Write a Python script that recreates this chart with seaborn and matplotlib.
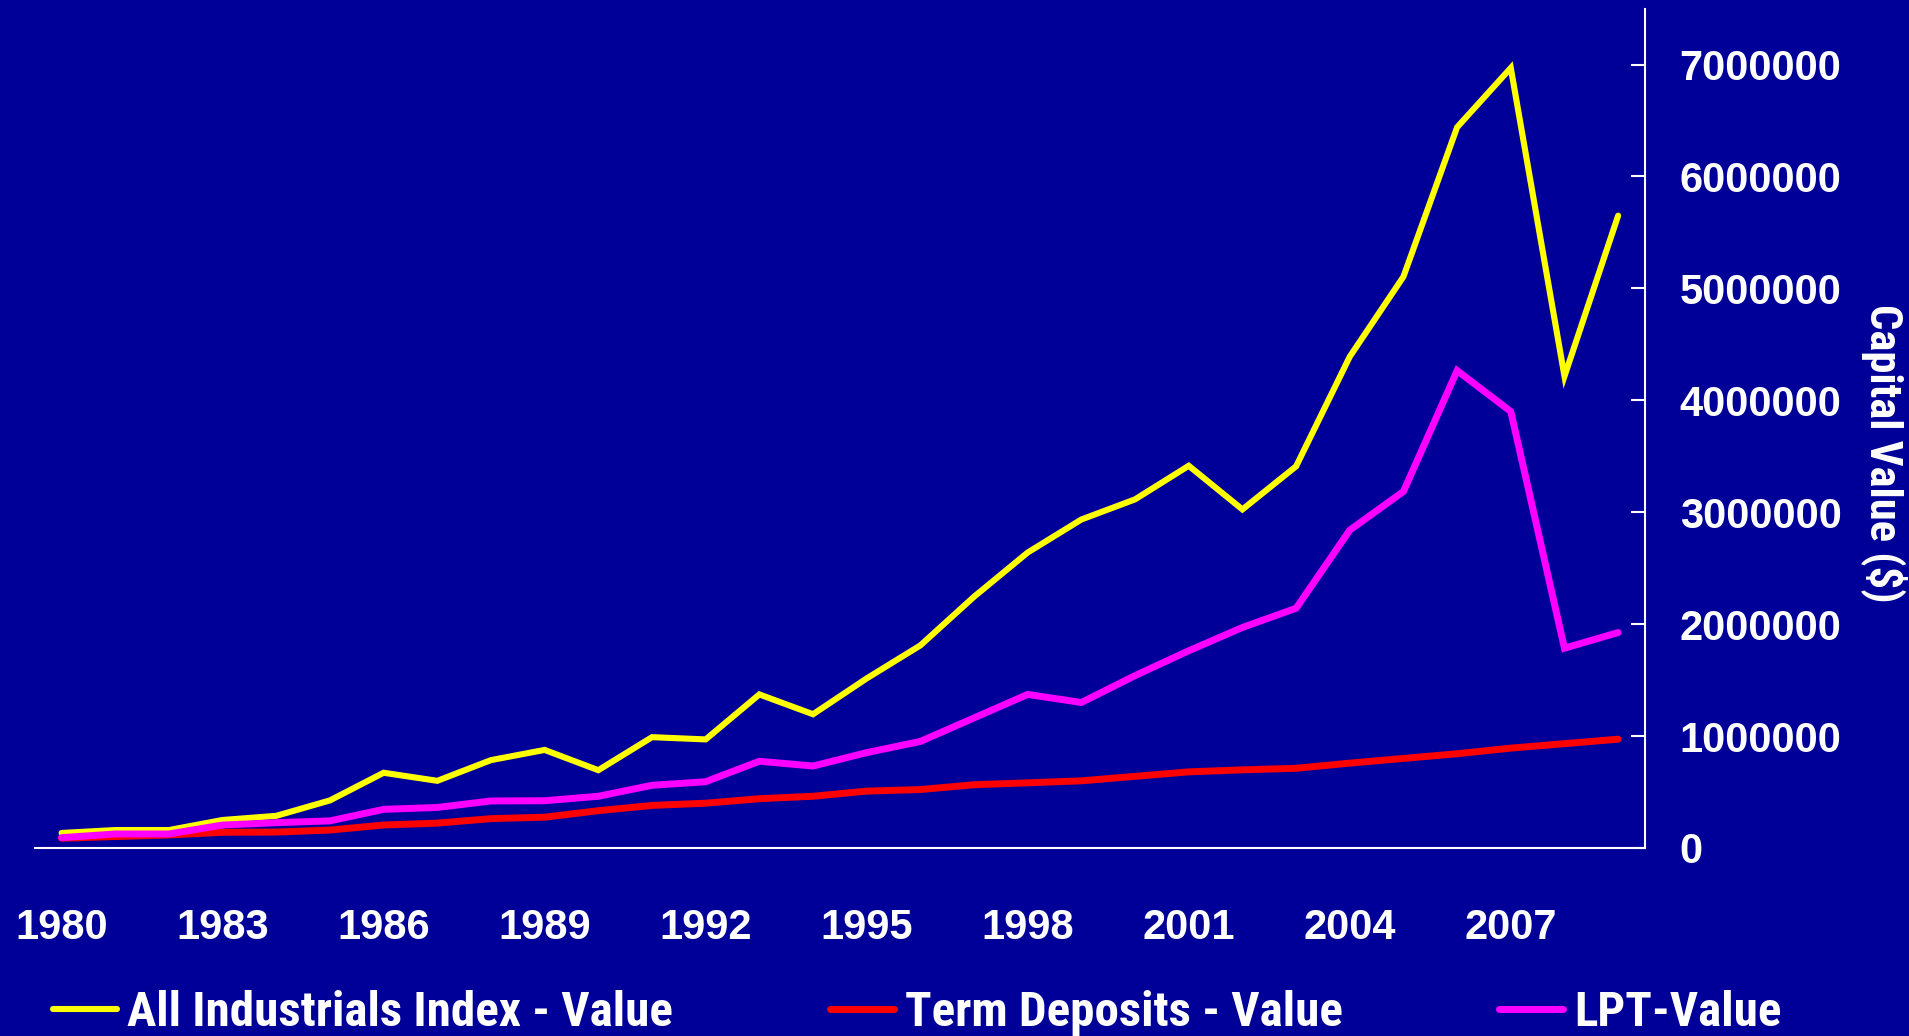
import numpy as np
import pandas as pd
import matplotlib
matplotlib.use("Agg")
import matplotlib.pyplot as plt
import seaborn as sns

# values (capital value in $)
years = list(range(1980, 2010))
industrials = [134000, 160000, 160000, 250000, 287000, 425000, 672000, 600000, 785000, 876000,
               695000, 990000, 970000, 1372000, 1195000, 1515000, 1810000, 2245000, 2640000, 2935000,
               3115000, 3415000, 3025000, 3410000, 4390000, 5105000, 6440000, 6970000, 4215000, 5650000]
term_deposits = [87000, 102000, 116000, 140000, 142000, 160000, 205000, 222000, 262000, 275000,
                 333000, 380000, 400000, 440000, 462000, 508000, 522000, 565000, 582000, 600000,
                 640000, 680000, 698000, 712000, 758000, 800000, 842000, 892000, 932000, 972000]
lpt = [92000, 125000, 125000, 205000, 226000, 242000, 345000, 362000, 420000, 422000,
       462000, 560000, 592000, 775000, 732000, 852000, 952000, 1162000, 1372000, 1300000,
       1540000, 1762000, 1970000, 2142000, 2840000, 3185000, 4265000, 3900000, 1785000, 1925000]

series_names = ["All Industrials Index - Value", "Term Deposits - Value", "LPT-Value"]
y_ticks = [0, 1000000, 2000000, 3000000, 4000000, 5000000, 6000000, 7000000]
x_labels = years[::3]

df = pd.DataFrame({
    "year": years * 3,
    "value": industrials + term_deposits + lpt,
    "series": np.repeat(series_names, len(years)),
})

sns.set_style("white")
plt.rcParams['font.family'] = ['Liberation Sans', 'DejaVu Sans']
narrow = ['Liberation Sans Narrow', 'Roboto Condensed', 'DejaVu Sans']

bg = "#000099"
colors = {"All Industrials Index - Value": "#FFFF00",
          "Term Deposits - Value": "#FF0000",
          "LPT-Value": "#FF00FF"}
widths = {"All Industrials Index - Value": 4.4,
          "Term Deposits - Value": 5.0,
          "LPT-Value": 5.0}

fig = plt.figure(figsize=(19.09, 10.36), dpi=100, facecolor=bg)
ax = fig.add_axes([0.0182, 0.1815, 0.8435, 0.8102])
ax.set_facecolor(bg)

for name in series_names:
    sns.lineplot(data=df[df["series"] == name], x="year", y="value",
                 color=colors[name], linewidth=widths[name], label=name, ax=ax,
                 solid_capstyle="round", solid_joinstyle="miter")

ax.set_xlim(1979.5, 2009.5)
ax.set_ylim(0, 7500000)

# x axis: labels every 3 years, tick marks between categories
ax.set_xticks(x_labels)
ax.set_xticklabels([str(y) for y in x_labels])
ax.set_xticks(np.arange(1979.5, 2010, 1), minor=True)
ax.tick_params(axis="x", which="major", length=0, pad=43, labelsize=30, labelcolor="white")
ax.tick_params(axis="x", which="minor", length=10, width=1.5, color="white", direction="in")
for lab in ax.get_xticklabels():
    lab.set_fontweight("bold")

# y axis on the right
ax.yaxis.tick_right()
ax.set_yticks(y_ticks)
ax.set_yticklabels([str(v) for v in y_ticks])
ax.tick_params(axis="y", which="major", length=10, width=1.5, color="white", direction="in",
               pad=25, labelsize=30, labelcolor="white", left=False, right=True)
for lab in ax.get_yticklabels():
    lab.set_fontweight("bold")

ax.set_xlabel("")
ax.yaxis.set_label_position("right")
ax.set_ylabel("Capital Value ($)", rotation=270, fontsize=32, fontweight="bold",
              fontstretch="condensed", color="white", family=narrow, va="center", ha="center")
ax.yaxis.set_label_coords(1.149, 0.47)

for side in ["left", "top"]:
    ax.spines[side].set_visible(False)
for side in ["right", "bottom"]:
    ax.spines[side].set_visible(True)
    ax.spines[side].set_color("white")
    ax.spines[side].set_linewidth(1.5)
ax.grid(False)

handles, labels = ax.get_legend_handles_labels()
ax.get_legend().remove()
fig.legend(handles, labels, loc="center", bbox_to_anchor=(0.4804, 0.0222), ncol=3,
           frameon=False,
           prop={"family": narrow, "weight": "bold", "size": 35.3, "stretch": "condensed"},
           labelcolor="white", columnspacing=3.2, handlelength=1.3, handletextpad=0.22,
           borderpad=0, borderaxespad=0)

fig.savefig("out.png", dpi=100, facecolor=bg)
